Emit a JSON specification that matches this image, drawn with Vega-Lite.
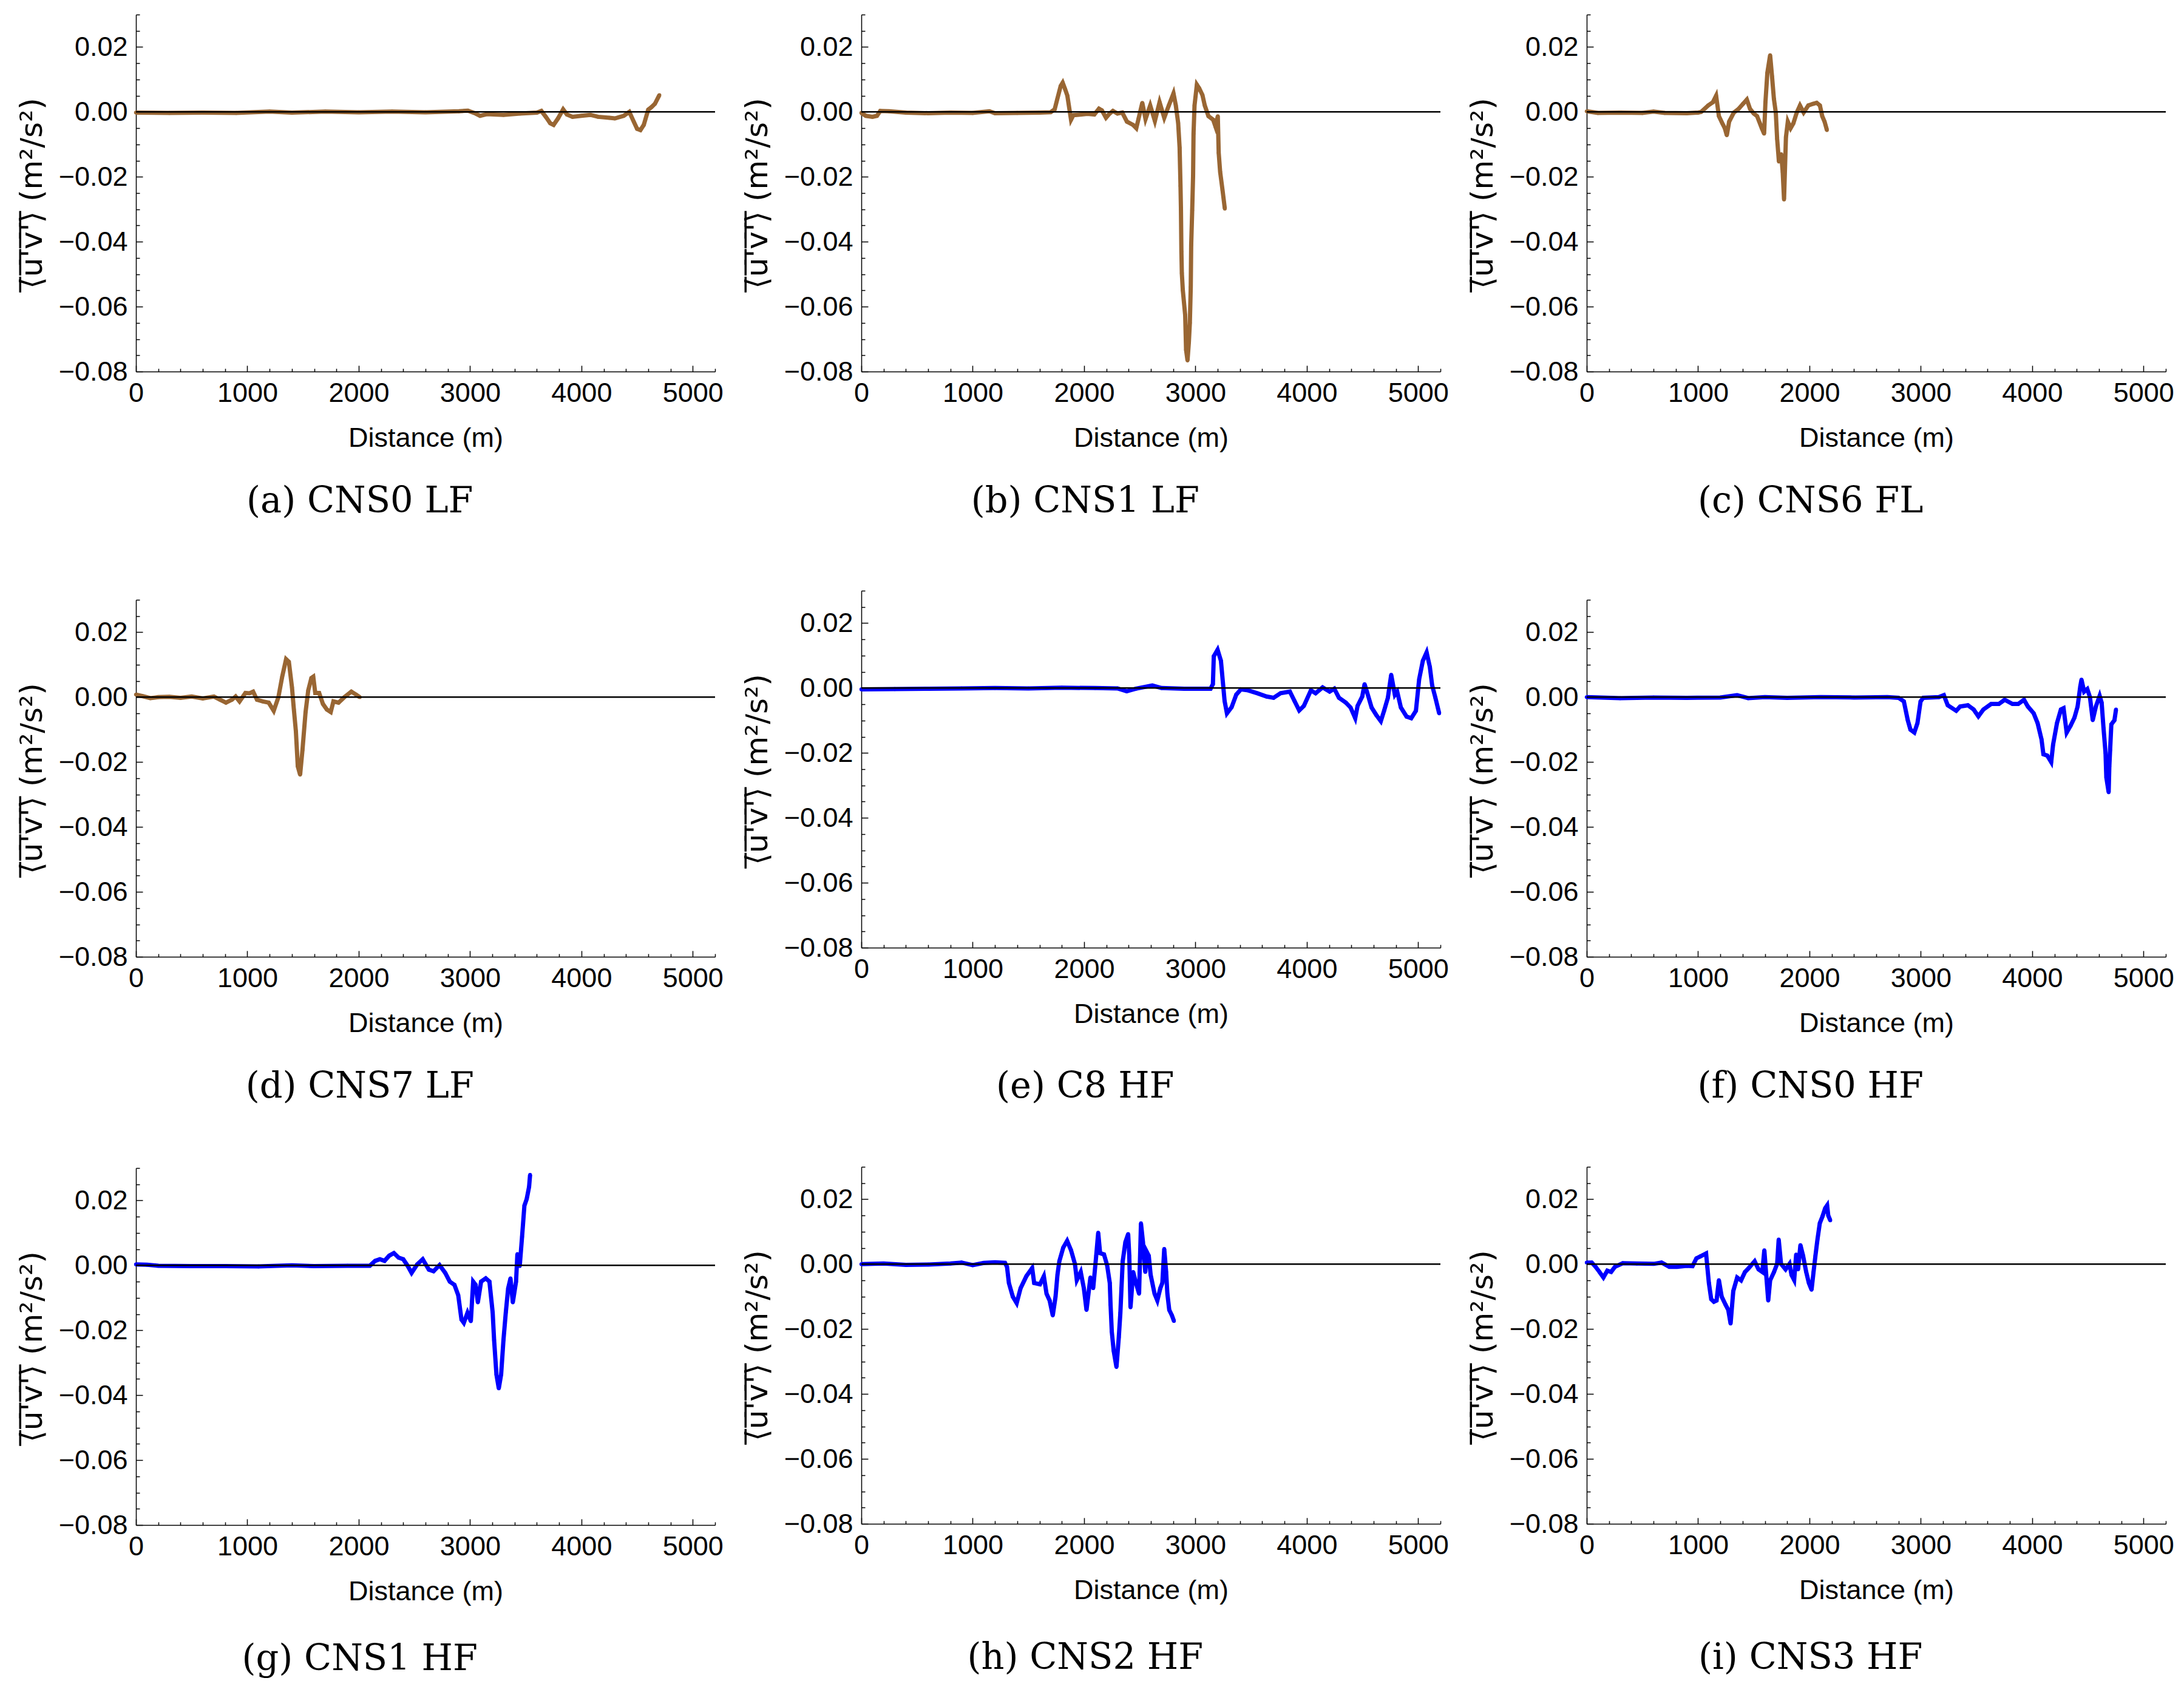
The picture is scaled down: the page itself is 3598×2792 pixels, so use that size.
{
"$schema": "https://vega.github.io/schema/vega-lite/v6.json",
"background": "white",
"padding": {"left": 28, "top": 23, "right": 5, "bottom": 5},
"datasets": {
"a": [{"d":0,"uv":-0.0002},{"d":300,"uv":-0.0003},{"d":600,"uv":-0.0002},{"d":900,"uv":-0.0003},{"d":1200,"uv":0.0001},{"d":1400,"uv":-0.0002},{"d":1700,"uv":0.0001},{"d":2000,"uv":-0.0001},{"d":2300,"uv":0.0001},{"d":2600,"uv":-0.0001},{"d":2900,"uv":0.0002},{"d":2980,"uv":0.0004},{"d":3050,"uv":-0.0005},{"d":3090,"uv":-0.0012},{"d":3150,"uv":-0.0007},{"d":3300,"uv":-0.0009},{"d":3450,"uv":-0.0005},{"d":3600,"uv":-0.0002},{"d":3640,"uv":0.0003},{"d":3680,"uv":-0.0015},{"d":3720,"uv":-0.0035},{"d":3750,"uv":-0.004},{"d":3790,"uv":-0.002},{"d":3836,"uv":0.0008},{"d":3870,"uv":-0.0008},{"d":3920,"uv":-0.0015},{"d":4000,"uv":-0.0012},{"d":4080,"uv":-0.0009},{"d":4150,"uv":-0.0015},{"d":4250,"uv":-0.0018},{"d":4300,"uv":-0.002},{"d":4380,"uv":-0.0012},{"d":4430,"uv":0.0},{"d":4470,"uv":-0.003},{"d":4500,"uv":-0.0052},{"d":4530,"uv":-0.0056},{"d":4560,"uv":-0.004},{"d":4600,"uv":0.0007},{"d":4630,"uv":0.0015},{"d":4660,"uv":0.0025},{"d":4700,"uv":0.0052}],
"b": [{"d":0,"uv":-0.0003},{"d":40,"uv":-0.0012},{"d":100,"uv":-0.0015},{"d":140,"uv":-0.0012},{"d":170,"uv":0.0003},{"d":250,"uv":0.0002},{"d":400,"uv":-0.0002},{"d":600,"uv":-0.0004},{"d":800,"uv":-0.0002},{"d":1000,"uv":-0.0003},{"d":1150,"uv":0.0002},{"d":1200,"uv":-0.0004},{"d":1400,"uv":-0.0003},{"d":1600,"uv":-0.0002},{"d":1700,"uv":-0.0001},{"d":1736,"uv":0.0008},{"d":1760,"uv":0.004},{"d":1790,"uv":0.008},{"d":1808,"uv":0.009},{"d":1830,"uv":0.007},{"d":1850,"uv":0.005},{"d":1883,"uv":-0.0024},{"d":1904,"uv":-0.001},{"d":1967,"uv":-0.0008},{"d":2030,"uv":-0.0006},{"d":2092,"uv":-0.0008},{"d":2134,"uv":0.001},{"d":2160,"uv":0.0005},{"d":2197,"uv":-0.0018},{"d":2230,"uv":-0.0005},{"d":2259,"uv":0.0003},{"d":2300,"uv":-0.0005},{"d":2343,"uv":-0.0002},{"d":2385,"uv":-0.003},{"d":2440,"uv":-0.004},{"d":2469,"uv":-0.005},{"d":2490,"uv":-0.002},{"d":2523,"uv":0.0028},{"d":2552,"uv":-0.0022},{"d":2594,"uv":0.002},{"d":2636,"uv":-0.0028},{"d":2678,"uv":0.003},{"d":2720,"uv":-0.0018},{"d":2761,"uv":0.002},{"d":2803,"uv":0.0057},{"d":2824,"uv":0.002},{"d":2845,"uv":-0.0034},{"d":2858,"uv":-0.011},{"d":2866,"uv":-0.0228},{"d":2870,"uv":-0.03},{"d":2874,"uv":-0.043},{"d":2878,"uv":-0.0497},{"d":2887,"uv":-0.055},{"d":2908,"uv":-0.0626},{"d":2916,"uv":-0.0733},{"d":2929,"uv":-0.0766},{"d":2941,"uv":-0.071},{"d":2950,"uv":-0.065},{"d":2958,"uv":-0.054},{"d":2962,"uv":-0.041},{"d":2971,"uv":-0.0303},{"d":2979,"uv":-0.0196},{"d":2983,"uv":-0.0067},{"d":2992,"uv":0.002},{"d":3013,"uv":0.0084},{"d":3034,"uv":0.0073},{"d":3063,"uv":0.0052},{"d":3084,"uv":0.002},{"d":3117,"uv":-0.0013},{"d":3159,"uv":-0.0024},{"d":3180,"uv":-0.0045},{"d":3201,"uv":-0.0013},{"d":3209,"uv":-0.0126},{"d":3222,"uv":-0.0185},{"d":3243,"uv":-0.024},{"d":3264,"uv":-0.0298}],
"c": [{"d":0,"uv":0.0002},{"d":100,"uv":-0.0003},{"d":300,"uv":-0.0002},{"d":500,"uv":-0.0003},{"d":600,"uv":0.0001},{"d":700,"uv":-0.0003},{"d":900,"uv":-0.0004},{"d":1000,"uv":-0.0002},{"d":1028,"uv":0.0},{"d":1091,"uv":0.002},{"d":1133,"uv":0.003},{"d":1162,"uv":0.005},{"d":1187,"uv":-0.0013},{"d":1216,"uv":-0.0034},{"d":1240,"uv":-0.005},{"d":1258,"uv":-0.0072},{"d":1279,"uv":-0.003},{"d":1321,"uv":-0.0002},{"d":1363,"uv":0.0009},{"d":1404,"uv":0.0025},{"d":1438,"uv":0.0038},{"d":1467,"uv":0.0009},{"d":1500,"uv":-0.0005},{"d":1530,"uv":-0.0013},{"d":1572,"uv":-0.005},{"d":1593,"uv":-0.0067},{"d":1605,"uv":0.003},{"d":1622,"uv":0.012},{"d":1647,"uv":0.0175},{"d":1664,"uv":0.011},{"d":1681,"uv":0.004},{"d":1698,"uv":-0.0002},{"d":1710,"uv":-0.0083},{"d":1726,"uv":-0.0153},{"d":1747,"uv":-0.013},{"d":1760,"uv":-0.0185},{"d":1772,"uv":-0.027},{"d":1789,"uv":-0.0078},{"d":1806,"uv":-0.003},{"d":1831,"uv":-0.005},{"d":1856,"uv":-0.0035},{"d":1886,"uv":-0.0002},{"d":1915,"uv":0.002},{"d":1948,"uv":-0.0002},{"d":1990,"uv":0.002},{"d":2032,"uv":0.0025},{"d":2065,"uv":0.0028},{"d":2094,"uv":0.002},{"d":2115,"uv":-0.0013},{"d":2136,"uv":-0.003},{"d":2157,"uv":-0.0056}],
"d": [{"d":0,"uv":0.0008},{"d":60,"uv":0.0003},{"d":129,"uv":-0.0003},{"d":200,"uv":0.0},{"d":300,"uv":0.0001},{"d":400,"uv":-0.0002},{"d":500,"uv":0.0002},{"d":600,"uv":-0.0004},{"d":700,"uv":0.0002},{"d":756,"uv":-0.0008},{"d":808,"uv":-0.0017},{"d":861,"uv":-0.0008},{"d":895,"uv":0.0002},{"d":930,"uv":-0.0013},{"d":983,"uv":0.0013},{"d":1020,"uv":0.0012},{"d":1052,"uv":0.0017},{"d":1087,"uv":-0.0008},{"d":1139,"uv":-0.0013},{"d":1192,"uv":-0.0017},{"d":1237,"uv":-0.0042},{"d":1279,"uv":0.0},{"d":1313,"uv":0.0063},{"d":1348,"uv":0.0117},{"d":1373,"uv":0.0109},{"d":1401,"uv":0.003},{"d":1418,"uv":-0.0038},{"d":1436,"uv":-0.0105},{"d":1453,"uv":-0.0213},{"d":1474,"uv":-0.0239},{"d":1495,"uv":-0.0163},{"d":1523,"uv":-0.0046},{"d":1547,"uv":0.0021},{"d":1575,"uv":0.0059},{"d":1592,"uv":0.0063},{"d":1610,"uv":0.0013},{"d":1645,"uv":0.0013},{"d":1679,"uv":-0.0021},{"d":1714,"uv":-0.0038},{"d":1749,"uv":-0.0046},{"d":1773,"uv":-0.0013},{"d":1819,"uv":-0.0017},{"d":1871,"uv":0.0},{"d":1934,"uv":0.0017},{"d":1976,"uv":0.0008},{"d":2010,"uv":0.0}],
"e": [{"d":0,"uv":-0.0004},{"d":300,"uv":-0.0003},{"d":600,"uv":-0.0002},{"d":900,"uv":-0.0001},{"d":1200,"uv":0.0},{"d":1500,"uv":-0.0001},{"d":1800,"uv":0.0001},{"d":2100,"uv":0.0},{"d":2300,"uv":-0.0001},{"d":2383,"uv":-0.001},{"d":2466,"uv":-0.0002},{"d":2613,"uv":0.0008},{"d":2696,"uv":0.0},{"d":2900,"uv":-0.0002},{"d":3136,"uv":-0.0002},{"d":3157,"uv":0.0012},{"d":3165,"uv":0.0098},{"d":3199,"uv":0.0118},{"d":3229,"uv":0.0084},{"d":3262,"uv":-0.004},{"d":3283,"uv":-0.0078},{"d":3325,"uv":-0.0059},{"d":3367,"uv":-0.002},{"d":3409,"uv":-0.0004},{"d":3472,"uv":-0.0007},{"d":3555,"uv":-0.0016},{"d":3639,"uv":-0.0026},{"d":3702,"uv":-0.003},{"d":3765,"uv":-0.0016},{"d":3848,"uv":-0.0011},{"d":3890,"uv":-0.004},{"d":3932,"uv":-0.0069},{"d":3974,"uv":-0.0055},{"d":4037,"uv":-0.0007},{"d":4079,"uv":-0.0016},{"d":4142,"uv":0.0002},{"d":4205,"uv":-0.0011},{"d":4247,"uv":-0.0002},{"d":4289,"uv":-0.003},{"d":4351,"uv":-0.0045},{"d":4393,"uv":-0.006},{"d":4435,"uv":-0.0093},{"d":4456,"uv":-0.0055},{"d":4498,"uv":-0.0026},{"d":4519,"uv":0.0012},{"d":4540,"uv":-0.0011},{"d":4582,"uv":-0.006},{"d":4624,"uv":-0.0083},{"d":4665,"uv":-0.0102},{"d":4695,"uv":-0.0069},{"d":4728,"uv":-0.003},{"d":4758,"uv":0.0041},{"d":4791,"uv":-0.0021},{"d":4812,"uv":-0.0011},{"d":4845,"uv":-0.006},{"d":4896,"uv":-0.0088},{"d":4938,"uv":-0.0093},{"d":4980,"uv":-0.007},{"d":5009,"uv":0.0027},{"d":5042,"uv":0.0084},{"d":5076,"uv":0.011},{"d":5105,"uv":0.0065},{"d":5126,"uv":0.0008},{"d":5155,"uv":-0.003},{"d":5189,"uv":-0.0078}],
"f": [{"d":0,"uv":0.0},{"d":300,"uv":-0.0003},{"d":600,"uv":-0.0001},{"d":900,"uv":-0.0002},{"d":1200,"uv":-0.0001},{"d":1350,"uv":0.0006},{"d":1450,"uv":-0.0003},{"d":1600,"uv":0.0},{"d":1800,"uv":-0.0002},{"d":2100,"uv":0.0},{"d":2400,"uv":-0.0001},{"d":2700,"uv":0.0},{"d":2800,"uv":-0.0002},{"d":2848,"uv":-0.0013},{"d":2883,"uv":-0.0071},{"d":2907,"uv":-0.01},{"d":2942,"uv":-0.0109},{"d":2970,"uv":-0.008},{"d":2998,"uv":-0.0013},{"d":3022,"uv":-0.0002},{"d":3162,"uv":0.0},{"d":3207,"uv":0.0006},{"d":3242,"uv":-0.0025},{"d":3318,"uv":-0.0042},{"d":3353,"uv":-0.0029},{"d":3423,"uv":-0.0025},{"d":3475,"uv":-0.0038},{"d":3517,"uv":-0.0059},{"d":3562,"uv":-0.0038},{"d":3632,"uv":-0.0021},{"d":3701,"uv":-0.0021},{"d":3753,"uv":-0.0008},{"d":3823,"uv":-0.0021},{"d":3875,"uv":-0.0021},{"d":3927,"uv":-0.0008},{"d":3962,"uv":-0.0029},{"d":4014,"uv":-0.005},{"d":4049,"uv":-0.008},{"d":4084,"uv":-0.013},{"d":4101,"uv":-0.0176},{"d":4136,"uv":-0.018},{"d":4171,"uv":-0.02},{"d":4188,"uv":-0.0146},{"d":4223,"uv":-0.008},{"d":4258,"uv":-0.0038},{"d":4282,"uv":-0.0034},{"d":4310,"uv":-0.0109},{"d":4345,"uv":-0.0088},{"d":4380,"uv":-0.0063},{"d":4408,"uv":-0.0029},{"d":4432,"uv":0.0033},{"d":4443,"uv":0.0054},{"d":4467,"uv":0.0017},{"d":4495,"uv":0.0025},{"d":4519,"uv":0.0},{"d":4544,"uv":-0.0071},{"d":4572,"uv":-0.0029},{"d":4606,"uv":0.0004},{"d":4624,"uv":-0.0017},{"d":4641,"uv":-0.0096},{"d":4659,"uv":-0.0172},{"d":4666,"uv":-0.0247},{"d":4687,"uv":-0.0293},{"d":4693,"uv":-0.0213},{"d":4700,"uv":-0.0163},{"d":4711,"uv":-0.0084},{"d":4739,"uv":-0.0071},{"d":4753,"uv":-0.0038}],
"g": [{"d":0,"uv":0.0003},{"d":100,"uv":0.0002},{"d":200,"uv":-0.0001},{"d":500,"uv":-0.0002},{"d":800,"uv":-0.0002},{"d":1100,"uv":-0.0003},{"d":1400,"uv":0.0},{"d":1600,"uv":-0.0002},{"d":1900,"uv":-0.0001},{"d":2100,"uv":-0.0001},{"d":2148,"uv":0.0014},{"d":2190,"uv":0.0019},{"d":2232,"uv":0.0014},{"d":2274,"uv":0.003},{"d":2316,"uv":0.0038},{"d":2358,"uv":0.0024},{"d":2400,"uv":0.0019},{"d":2441,"uv":-0.0002},{"d":2475,"uv":-0.0023},{"d":2525,"uv":0.0003},{"d":2575,"uv":0.0019},{"d":2630,"uv":-0.0013},{"d":2672,"uv":-0.0018},{"d":2726,"uv":0.0001},{"d":2777,"uv":-0.0023},{"d":2818,"uv":-0.005},{"d":2860,"uv":-0.006},{"d":2894,"uv":-0.0092},{"d":2923,"uv":-0.0167},{"d":2944,"uv":-0.0177},{"d":2977,"uv":-0.0146},{"d":3007,"uv":-0.0172},{"d":3028,"uv":-0.005},{"d":3050,"uv":-0.006},{"d":3070,"uv":-0.0114},{"d":3099,"uv":-0.005},{"d":3141,"uv":-0.004},{"d":3174,"uv":-0.005},{"d":3203,"uv":-0.0145},{"d":3216,"uv":-0.023},{"d":3237,"uv":-0.0336},{"d":3258,"uv":-0.0379},{"d":3279,"uv":-0.0336},{"d":3300,"uv":-0.023},{"d":3321,"uv":-0.0145},{"d":3342,"uv":-0.0071},{"d":3363,"uv":-0.004},{"d":3384,"uv":-0.0114},{"d":3413,"uv":-0.005},{"d":3425,"uv":0.0035},{"d":3446,"uv":-0.0002},{"d":3467,"uv":0.0088},{"d":3488,"uv":0.0184},{"d":3509,"uv":0.0205},{"d":3530,"uv":0.0242},{"d":3539,"uv":0.0279}],
"h": [{"d":0,"uv":0.0},{"d":200,"uv":0.0002},{"d":400,"uv":-0.0002},{"d":600,"uv":-0.0001},{"d":800,"uv":0.0002},{"d":900,"uv":0.0005},{"d":1000,"uv":-0.0003},{"d":1100,"uv":0.0004},{"d":1200,"uv":0.0006},{"d":1290,"uv":0.0004},{"d":1308,"uv":-0.0008},{"d":1325,"uv":-0.0058},{"d":1360,"uv":-0.01},{"d":1395,"uv":-0.012},{"d":1430,"uv":-0.0074},{"d":1482,"uv":-0.0037},{"d":1534,"uv":-0.0012},{"d":1552,"uv":-0.0058},{"d":1604,"uv":-0.0062},{"d":1639,"uv":-0.0037},{"d":1663,"uv":-0.0091},{"d":1691,"uv":-0.0112},{"d":1719,"uv":-0.0158},{"d":1744,"uv":-0.01},{"d":1761,"uv":-0.0033},{"d":1778,"uv":0.0009},{"d":1813,"uv":0.0051},{"d":1848,"uv":0.0072},{"d":1883,"uv":0.0043},{"d":1918,"uv":0.0001},{"d":1935,"uv":-0.0049},{"d":1970,"uv":-0.0024},{"d":1998,"uv":-0.0074},{"d":2022,"uv":-0.0141},{"d":2057,"uv":-0.0041},{"d":2082,"uv":-0.0074},{"d":2109,"uv":0.0026},{"d":2127,"uv":0.0097},{"d":2144,"uv":0.0034},{"d":2179,"uv":0.003},{"d":2207,"uv":-0.0003},{"d":2231,"uv":-0.0058},{"d":2238,"uv":-0.0125},{"d":2249,"uv":-0.0208},{"d":2266,"uv":-0.0267},{"d":2291,"uv":-0.0317},{"d":2312,"uv":-0.0225},{"d":2326,"uv":-0.015},{"d":2336,"uv":-0.0074},{"d":2347,"uv":0.0009},{"d":2371,"uv":0.0068},{"d":2396,"uv":0.0093},{"d":2406,"uv":0.0026},{"d":2417,"uv":-0.0133},{"d":2441,"uv":-0.0024},{"d":2466,"uv":-0.0058},{"d":2494,"uv":-0.0091},{"d":2511,"uv":0.0126},{"d":2529,"uv":0.0068},{"d":2550,"uv":-0.0024},{"d":2563,"uv":0.0038},{"d":2581,"uv":0.0026},{"d":2598,"uv":-0.0033},{"d":2633,"uv":-0.0091},{"d":2658,"uv":-0.0112},{"d":2685,"uv":-0.0074},{"d":2703,"uv":-0.0058},{"d":2720,"uv":0.0047},{"d":2737,"uv":-0.0024},{"d":2748,"uv":-0.0091},{"d":2765,"uv":-0.0141},{"d":2789,"uv":-0.0158},{"d":2807,"uv":-0.0175}],
"i": [{"d":0,"uv":0.0005},{"d":45,"uv":0.0005},{"d":80,"uv":-0.0008},{"d":115,"uv":-0.0024},{"d":150,"uv":-0.0041},{"d":185,"uv":-0.002},{"d":219,"uv":-0.0024},{"d":254,"uv":-0.0008},{"d":324,"uv":0.0003},{"d":450,"uv":0.0002},{"d":602,"uv":0.0001},{"d":672,"uv":0.0005},{"d":742,"uv":-0.0008},{"d":811,"uv":-0.0008},{"d":900,"uv":-0.0005},{"d":950,"uv":-0.0006},{"d":985,"uv":0.0018},{"d":1020,"uv":0.0024},{"d":1072,"uv":0.0033},{"d":1083,"uv":-0.0008},{"d":1097,"uv":-0.0058},{"d":1118,"uv":-0.0108},{"d":1142,"uv":-0.0116},{"d":1166,"uv":-0.0112},{"d":1187,"uv":-0.0049},{"d":1212,"uv":-0.01},{"d":1247,"uv":-0.0125},{"d":1271,"uv":-0.0141},{"d":1292,"uv":-0.0183},{"d":1316,"uv":-0.0083},{"d":1351,"uv":-0.0041},{"d":1386,"uv":-0.005},{"d":1421,"uv":-0.0024},{"d":1455,"uv":-0.0012},{"d":1508,"uv":0.0009},{"d":1543,"uv":-0.0016},{"d":1577,"uv":-0.0024},{"d":1595,"uv":0.0043},{"d":1612,"uv":-0.0033},{"d":1630,"uv":-0.0112},{"d":1647,"uv":-0.005},{"d":1682,"uv":-0.0024},{"d":1710,"uv":0.0001},{"d":1724,"uv":0.0076},{"d":1745,"uv":0.0001},{"d":1786,"uv":-0.0016},{"d":1821,"uv":0.0001},{"d":1839,"uv":-0.0033},{"d":1863,"uv":-0.0049},{"d":1881,"uv":0.003},{"d":1898,"uv":-0.0016},{"d":1919,"uv":0.0059},{"d":1943,"uv":0.0026},{"d":1971,"uv":-0.0024},{"d":1995,"uv":-0.0058},{"d":2019,"uv":-0.0079},{"d":2037,"uv":-0.0024},{"d":2054,"uv":0.0026},{"d":2072,"uv":0.0076},{"d":2093,"uv":0.0126},{"d":2117,"uv":0.0147},{"d":2141,"uv":0.0172},{"d":2159,"uv":0.0181},{"d":2169,"uv":0.015},{"d":2187,"uv":0.0135}]
},
"spacing": 31,
"hconcat": [
{"spacing": 131, "vconcat": [
 {"width": 954, "height": 588, "title": {"text": "(a) CNS0 LF"}, "resolve": {"axis": {"x": "independent", "y": "independent"}}, "layer": [
  {"data": {"name": "a"}, "mark": {"type": "line", "color": "#996633", "strokeWidth": 7}, "encoding": {"x": {"field": "d", "type": "quantitative", "scale": {"domain": [0, 5200], "nice": false, "zero": false}, "axis": {"orient": "bottom", "values": [0,1000,2000,3000,4000,5000], "format": "d", "title": "Distance (m)", "tickSize": -10, "labelPadding": 23, "titlePadding": 29, "labelFlush": false, "labelOverlap": false}}, "y": {"field": "uv", "type": "quantitative", "scale": {"domain": [-0.08, 0.03], "nice": false, "zero": false}, "axis": {"orient": "left", "values": [-0.075,-0.07,-0.065,-0.055,-0.05,-0.045,-0.035,-0.03,-0.025,-0.015,-0.01,-0.005,0.005,0.01,0.015,0.025,0.03], "labels": false, "domain": false, "tickSize": -6, "title": null}}}},
  {"data": {"name": "a"}, "mark": {"type": "circle", "color": "#996633", "size": 40, "opacity": 1}, "encoding": {"x": {"field": "d", "type": "quantitative", "scale": {"domain": [0, 5200], "nice": false, "zero": false}, "axis": {"orient": "bottom", "values": [200,400,600,800,1200,1400,1600,1800,2200,2400,2600,2800,3200,3400,3600,3800,4200,4400,4600,4800,5200], "labels": false, "domain": false, "tickSize": -5, "title": null}}, "y": {"field": "uv", "type": "quantitative", "scale": {"domain": [-0.08, 0.03], "nice": false, "zero": false}, "axis": null}}},
  {"data": {"values": [{}]}, "mark": {"type": "rule", "color": "black", "strokeWidth": 2.5}, "encoding": {"y": {"datum": 0, "type": "quantitative", "scale": {"domain": [-0.08, 0.03], "nice": false, "zero": false}, "axis": {"orient": "left", "values": [-0.08,-0.06,-0.04,-0.02,0,0.02], "format": ".2f", "title": "⟨̅u̅'̅v̅'̅⟩̅ (m²/s²)", "titleFont": "DejaVu Sans", "titleFontSize": 50, "tickSize": -11, "labelPadding": 25, "titlePadding": 18, "labelFlush": false, "labelOverlap": false}}}}
 ]},
 {"spacing": 101, "vconcat": [
 {"width": 954, "height": 588, "title": {"text": "(d) CNS7 LF"}, "resolve": {"axis": {"x": "independent", "y": "independent"}}, "layer": [
  {"data": {"name": "d"}, "mark": {"type": "line", "color": "#996633", "strokeWidth": 7}, "encoding": {"x": {"field": "d", "type": "quantitative", "scale": {"domain": [0, 5200], "nice": false, "zero": false}, "axis": {"orient": "bottom", "values": [0,1000,2000,3000,4000,5000], "format": "d", "title": "Distance (m)", "tickSize": -10, "labelPadding": 23, "titlePadding": 29, "labelFlush": false, "labelOverlap": false}}, "y": {"field": "uv", "type": "quantitative", "scale": {"domain": [-0.08, 0.03], "nice": false, "zero": false}, "axis": {"orient": "left", "values": [-0.075,-0.07,-0.065,-0.055,-0.05,-0.045,-0.035,-0.03,-0.025,-0.015,-0.01,-0.005,0.005,0.01,0.015,0.025,0.03], "labels": false, "domain": false, "tickSize": -6, "title": null}}}},
  {"data": {"name": "d"}, "mark": {"type": "circle", "color": "#996633", "size": 40, "opacity": 1}, "encoding": {"x": {"field": "d", "type": "quantitative", "scale": {"domain": [0, 5200], "nice": false, "zero": false}, "axis": {"orient": "bottom", "values": [200,400,600,800,1200,1400,1600,1800,2200,2400,2600,2800,3200,3400,3600,3800,4200,4400,4600,4800,5200], "labels": false, "domain": false, "tickSize": -5, "title": null}}, "y": {"field": "uv", "type": "quantitative", "scale": {"domain": [-0.08, 0.03], "nice": false, "zero": false}, "axis": null}}},
  {"data": {"values": [{}]}, "mark": {"type": "rule", "color": "black", "strokeWidth": 2.5}, "encoding": {"y": {"datum": 0, "type": "quantitative", "scale": {"domain": [-0.08, 0.03], "nice": false, "zero": false}, "axis": {"orient": "left", "values": [-0.08,-0.06,-0.04,-0.02,0,0.02], "format": ".2f", "title": "⟨̅u̅'̅v̅'̅⟩̅ (m²/s²)", "titleFont": "DejaVu Sans", "titleFontSize": 50, "tickSize": -11, "labelPadding": 25, "titlePadding": 18, "labelFlush": false, "labelOverlap": false}}}}
 ]},
 {"width": 954, "height": 588, "title": {"text": "(g) CNS1 HF", "offset": 60}, "resolve": {"axis": {"x": "independent", "y": "independent"}}, "layer": [
  {"data": {"name": "g"}, "mark": {"type": "line", "color": "#0000ff", "strokeWidth": 7}, "encoding": {"x": {"field": "d", "type": "quantitative", "scale": {"domain": [0, 5200], "nice": false, "zero": false}, "axis": {"orient": "bottom", "values": [0,1000,2000,3000,4000,5000], "format": "d", "title": "Distance (m)", "tickSize": -10, "labelPadding": 23, "titlePadding": 29, "labelFlush": false, "labelOverlap": false}}, "y": {"field": "uv", "type": "quantitative", "scale": {"domain": [-0.08, 0.03], "nice": false, "zero": false}, "axis": {"orient": "left", "values": [-0.075,-0.07,-0.065,-0.055,-0.05,-0.045,-0.035,-0.03,-0.025,-0.015,-0.01,-0.005,0.005,0.01,0.015,0.025,0.03], "labels": false, "domain": false, "tickSize": -6, "title": null}}}},
  {"data": {"name": "g"}, "mark": {"type": "circle", "color": "#0000ff", "size": 40, "opacity": 1}, "encoding": {"x": {"field": "d", "type": "quantitative", "scale": {"domain": [0, 5200], "nice": false, "zero": false}, "axis": {"orient": "bottom", "values": [200,400,600,800,1200,1400,1600,1800,2200,2400,2600,2800,3200,3400,3600,3800,4200,4400,4600,4800,5200], "labels": false, "domain": false, "tickSize": -5, "title": null}}, "y": {"field": "uv", "type": "quantitative", "scale": {"domain": [-0.08, 0.03], "nice": false, "zero": false}, "axis": null}}},
  {"data": {"values": [{}]}, "mark": {"type": "rule", "color": "black", "strokeWidth": 2.5}, "encoding": {"y": {"datum": 0, "type": "quantitative", "scale": {"domain": [-0.08, 0.03], "nice": false, "zero": false}, "axis": {"orient": "left", "values": [-0.08,-0.06,-0.04,-0.02,0,0.02], "format": ".2f", "title": "⟨̅u̅'̅v̅'̅⟩̅ (m²/s²)", "titleFont": "DejaVu Sans", "titleFontSize": 50, "tickSize": -11, "labelPadding": 25, "titlePadding": 18, "labelFlush": false, "labelOverlap": false}}}}
 ]}
 ]}
]},
{"spacing": 116, "vconcat": [
 {"width": 954, "height": 588, "title": {"text": "(b) CNS1 LF"}, "resolve": {"axis": {"x": "independent", "y": "independent"}}, "layer": [
  {"data": {"name": "b"}, "mark": {"type": "line", "color": "#996633", "strokeWidth": 7}, "encoding": {"x": {"field": "d", "type": "quantitative", "scale": {"domain": [0, 5200], "nice": false, "zero": false}, "axis": {"orient": "bottom", "values": [0,1000,2000,3000,4000,5000], "format": "d", "title": "Distance (m)", "tickSize": -10, "labelPadding": 23, "titlePadding": 29, "labelFlush": false, "labelOverlap": false}}, "y": {"field": "uv", "type": "quantitative", "scale": {"domain": [-0.08, 0.03], "nice": false, "zero": false}, "axis": {"orient": "left", "values": [-0.075,-0.07,-0.065,-0.055,-0.05,-0.045,-0.035,-0.03,-0.025,-0.015,-0.01,-0.005,0.005,0.01,0.015,0.025,0.03], "labels": false, "domain": false, "tickSize": -6, "title": null}}}},
  {"data": {"name": "b"}, "mark": {"type": "circle", "color": "#996633", "size": 40, "opacity": 1}, "encoding": {"x": {"field": "d", "type": "quantitative", "scale": {"domain": [0, 5200], "nice": false, "zero": false}, "axis": {"orient": "bottom", "values": [200,400,600,800,1200,1400,1600,1800,2200,2400,2600,2800,3200,3400,3600,3800,4200,4400,4600,4800,5200], "labels": false, "domain": false, "tickSize": -5, "title": null}}, "y": {"field": "uv", "type": "quantitative", "scale": {"domain": [-0.08, 0.03], "nice": false, "zero": false}, "axis": null}}},
  {"data": {"values": [{}]}, "mark": {"type": "rule", "color": "black", "strokeWidth": 2.5}, "encoding": {"y": {"datum": 0, "type": "quantitative", "scale": {"domain": [-0.08, 0.03], "nice": false, "zero": false}, "axis": {"orient": "left", "values": [-0.08,-0.06,-0.04,-0.02,0,0.02], "format": ".2f", "title": "⟨̅u̅'̅v̅'̅⟩̅ (m²/s²)", "titleFont": "DejaVu Sans", "titleFontSize": 50, "tickSize": -11, "labelPadding": 25, "titlePadding": 18, "labelFlush": false, "labelOverlap": false}}}}
 ]},
 {"spacing": 101, "vconcat": [
 {"width": 954, "height": 588, "title": {"text": "(e) C8 HF", "offset": 68}, "resolve": {"axis": {"x": "independent", "y": "independent"}}, "layer": [
  {"data": {"name": "e"}, "mark": {"type": "line", "color": "#0000ff", "strokeWidth": 7}, "encoding": {"x": {"field": "d", "type": "quantitative", "scale": {"domain": [0, 5200], "nice": false, "zero": false}, "axis": {"orient": "bottom", "values": [0,1000,2000,3000,4000,5000], "format": "d", "title": "Distance (m)", "tickSize": -10, "labelPadding": 23, "titlePadding": 29, "labelFlush": false, "labelOverlap": false}}, "y": {"field": "uv", "type": "quantitative", "scale": {"domain": [-0.08, 0.03], "nice": false, "zero": false}, "axis": {"orient": "left", "values": [-0.075,-0.07,-0.065,-0.055,-0.05,-0.045,-0.035,-0.03,-0.025,-0.015,-0.01,-0.005,0.005,0.01,0.015,0.025,0.03], "labels": false, "domain": false, "tickSize": -6, "title": null}}}},
  {"data": {"name": "e"}, "mark": {"type": "circle", "color": "#0000ff", "size": 40, "opacity": 1}, "encoding": {"x": {"field": "d", "type": "quantitative", "scale": {"domain": [0, 5200], "nice": false, "zero": false}, "axis": {"orient": "bottom", "values": [200,400,600,800,1200,1400,1600,1800,2200,2400,2600,2800,3200,3400,3600,3800,4200,4400,4600,4800,5200], "labels": false, "domain": false, "tickSize": -5, "title": null}}, "y": {"field": "uv", "type": "quantitative", "scale": {"domain": [-0.08, 0.03], "nice": false, "zero": false}, "axis": null}}},
  {"data": {"values": [{}]}, "mark": {"type": "rule", "color": "black", "strokeWidth": 2.5}, "encoding": {"y": {"datum": 0, "type": "quantitative", "scale": {"domain": [-0.08, 0.03], "nice": false, "zero": false}, "axis": {"orient": "left", "values": [-0.08,-0.06,-0.04,-0.02,0,0.02], "format": ".2f", "title": "⟨̅u̅'̅v̅'̅⟩̅ (m²/s²)", "titleFont": "DejaVu Sans", "titleFontSize": 50, "tickSize": -11, "labelPadding": 25, "titlePadding": 18, "labelFlush": false, "labelOverlap": false}}}}
 ]},
 {"width": 954, "height": 588, "title": {"text": "(h) CNS2 HF", "offset": 60}, "resolve": {"axis": {"x": "independent", "y": "independent"}}, "layer": [
  {"data": {"name": "h"}, "mark": {"type": "line", "color": "#0000ff", "strokeWidth": 7}, "encoding": {"x": {"field": "d", "type": "quantitative", "scale": {"domain": [0, 5200], "nice": false, "zero": false}, "axis": {"orient": "bottom", "values": [0,1000,2000,3000,4000,5000], "format": "d", "title": "Distance (m)", "tickSize": -10, "labelPadding": 23, "titlePadding": 29, "labelFlush": false, "labelOverlap": false}}, "y": {"field": "uv", "type": "quantitative", "scale": {"domain": [-0.08, 0.03], "nice": false, "zero": false}, "axis": {"orient": "left", "values": [-0.075,-0.07,-0.065,-0.055,-0.05,-0.045,-0.035,-0.03,-0.025,-0.015,-0.01,-0.005,0.005,0.01,0.015,0.025,0.03], "labels": false, "domain": false, "tickSize": -6, "title": null}}}},
  {"data": {"name": "h"}, "mark": {"type": "circle", "color": "#0000ff", "size": 40, "opacity": 1}, "encoding": {"x": {"field": "d", "type": "quantitative", "scale": {"domain": [0, 5200], "nice": false, "zero": false}, "axis": {"orient": "bottom", "values": [200,400,600,800,1200,1400,1600,1800,2200,2400,2600,2800,3200,3400,3600,3800,4200,4400,4600,4800,5200], "labels": false, "domain": false, "tickSize": -5, "title": null}}, "y": {"field": "uv", "type": "quantitative", "scale": {"domain": [-0.08, 0.03], "nice": false, "zero": false}, "axis": null}}},
  {"data": {"values": [{}]}, "mark": {"type": "rule", "color": "black", "strokeWidth": 2.5}, "encoding": {"y": {"datum": 0, "type": "quantitative", "scale": {"domain": [-0.08, 0.03], "nice": false, "zero": false}, "axis": {"orient": "left", "values": [-0.08,-0.06,-0.04,-0.02,0,0.02], "format": ".2f", "title": "⟨̅u̅'̅v̅'̅⟩̅ (m²/s²)", "titleFont": "DejaVu Sans", "titleFontSize": 50, "tickSize": -11, "labelPadding": 25, "titlePadding": 18, "labelFlush": false, "labelOverlap": false}}}}
 ]}
 ]}
]},
{"spacing": 131, "vconcat": [
 {"width": 954, "height": 588, "title": {"text": "(c) CNS6 FL"}, "resolve": {"axis": {"x": "independent", "y": "independent"}}, "layer": [
  {"data": {"name": "c"}, "mark": {"type": "line", "color": "#996633", "strokeWidth": 7}, "encoding": {"x": {"field": "d", "type": "quantitative", "scale": {"domain": [0, 5200], "nice": false, "zero": false}, "axis": {"orient": "bottom", "values": [0,1000,2000,3000,4000,5000], "format": "d", "title": "Distance (m)", "tickSize": -10, "labelPadding": 23, "titlePadding": 29, "labelFlush": false, "labelOverlap": false}}, "y": {"field": "uv", "type": "quantitative", "scale": {"domain": [-0.08, 0.03], "nice": false, "zero": false}, "axis": {"orient": "left", "values": [-0.075,-0.07,-0.065,-0.055,-0.05,-0.045,-0.035,-0.03,-0.025,-0.015,-0.01,-0.005,0.005,0.01,0.015,0.025,0.03], "labels": false, "domain": false, "tickSize": -6, "title": null}}}},
  {"data": {"name": "c"}, "mark": {"type": "circle", "color": "#996633", "size": 40, "opacity": 1}, "encoding": {"x": {"field": "d", "type": "quantitative", "scale": {"domain": [0, 5200], "nice": false, "zero": false}, "axis": {"orient": "bottom", "values": [200,400,600,800,1200,1400,1600,1800,2200,2400,2600,2800,3200,3400,3600,3800,4200,4400,4600,4800,5200], "labels": false, "domain": false, "tickSize": -5, "title": null}}, "y": {"field": "uv", "type": "quantitative", "scale": {"domain": [-0.08, 0.03], "nice": false, "zero": false}, "axis": null}}},
  {"data": {"values": [{}]}, "mark": {"type": "rule", "color": "black", "strokeWidth": 2.5}, "encoding": {"y": {"datum": 0, "type": "quantitative", "scale": {"domain": [-0.08, 0.03], "nice": false, "zero": false}, "axis": {"orient": "left", "values": [-0.08,-0.06,-0.04,-0.02,0,0.02], "format": ".2f", "title": "⟨̅u̅'̅v̅'̅⟩̅ (m²/s²)", "titleFont": "DejaVu Sans", "titleFontSize": 50, "tickSize": -11, "labelPadding": 25, "titlePadding": 18, "labelFlush": false, "labelOverlap": false}}}}
 ]},
 {"spacing": 101, "vconcat": [
 {"width": 954, "height": 588, "title": {"text": "(f) CNS0 HF"}, "resolve": {"axis": {"x": "independent", "y": "independent"}}, "layer": [
  {"data": {"name": "f"}, "mark": {"type": "line", "color": "#0000ff", "strokeWidth": 7}, "encoding": {"x": {"field": "d", "type": "quantitative", "scale": {"domain": [0, 5200], "nice": false, "zero": false}, "axis": {"orient": "bottom", "values": [0,1000,2000,3000,4000,5000], "format": "d", "title": "Distance (m)", "tickSize": -10, "labelPadding": 23, "titlePadding": 29, "labelFlush": false, "labelOverlap": false}}, "y": {"field": "uv", "type": "quantitative", "scale": {"domain": [-0.08, 0.03], "nice": false, "zero": false}, "axis": {"orient": "left", "values": [-0.075,-0.07,-0.065,-0.055,-0.05,-0.045,-0.035,-0.03,-0.025,-0.015,-0.01,-0.005,0.005,0.01,0.015,0.025,0.03], "labels": false, "domain": false, "tickSize": -6, "title": null}}}},
  {"data": {"name": "f"}, "mark": {"type": "circle", "color": "#0000ff", "size": 40, "opacity": 1}, "encoding": {"x": {"field": "d", "type": "quantitative", "scale": {"domain": [0, 5200], "nice": false, "zero": false}, "axis": {"orient": "bottom", "values": [200,400,600,800,1200,1400,1600,1800,2200,2400,2600,2800,3200,3400,3600,3800,4200,4400,4600,4800,5200], "labels": false, "domain": false, "tickSize": -5, "title": null}}, "y": {"field": "uv", "type": "quantitative", "scale": {"domain": [-0.08, 0.03], "nice": false, "zero": false}, "axis": null}}},
  {"data": {"values": [{}]}, "mark": {"type": "rule", "color": "black", "strokeWidth": 2.5}, "encoding": {"y": {"datum": 0, "type": "quantitative", "scale": {"domain": [-0.08, 0.03], "nice": false, "zero": false}, "axis": {"orient": "left", "values": [-0.08,-0.06,-0.04,-0.02,0,0.02], "format": ".2f", "title": "⟨̅u̅'̅v̅'̅⟩̅ (m²/s²)", "titleFont": "DejaVu Sans", "titleFontSize": 50, "tickSize": -11, "labelPadding": 25, "titlePadding": 18, "labelFlush": false, "labelOverlap": false}}}}
 ]},
 {"width": 954, "height": 588, "title": {"text": "(i) CNS3 HF", "offset": 60}, "resolve": {"axis": {"x": "independent", "y": "independent"}}, "layer": [
  {"data": {"name": "i"}, "mark": {"type": "line", "color": "#0000ff", "strokeWidth": 7}, "encoding": {"x": {"field": "d", "type": "quantitative", "scale": {"domain": [0, 5200], "nice": false, "zero": false}, "axis": {"orient": "bottom", "values": [0,1000,2000,3000,4000,5000], "format": "d", "title": "Distance (m)", "tickSize": -10, "labelPadding": 23, "titlePadding": 29, "labelFlush": false, "labelOverlap": false}}, "y": {"field": "uv", "type": "quantitative", "scale": {"domain": [-0.08, 0.03], "nice": false, "zero": false}, "axis": {"orient": "left", "values": [-0.075,-0.07,-0.065,-0.055,-0.05,-0.045,-0.035,-0.03,-0.025,-0.015,-0.01,-0.005,0.005,0.01,0.015,0.025,0.03], "labels": false, "domain": false, "tickSize": -6, "title": null}}}},
  {"data": {"name": "i"}, "mark": {"type": "circle", "color": "#0000ff", "size": 40, "opacity": 1}, "encoding": {"x": {"field": "d", "type": "quantitative", "scale": {"domain": [0, 5200], "nice": false, "zero": false}, "axis": {"orient": "bottom", "values": [200,400,600,800,1200,1400,1600,1800,2200,2400,2600,2800,3200,3400,3600,3800,4200,4400,4600,4800,5200], "labels": false, "domain": false, "tickSize": -5, "title": null}}, "y": {"field": "uv", "type": "quantitative", "scale": {"domain": [-0.08, 0.03], "nice": false, "zero": false}, "axis": null}}},
  {"data": {"values": [{}]}, "mark": {"type": "rule", "color": "black", "strokeWidth": 2.5}, "encoding": {"y": {"datum": 0, "type": "quantitative", "scale": {"domain": [-0.08, 0.03], "nice": false, "zero": false}, "axis": {"orient": "left", "values": [-0.08,-0.06,-0.04,-0.02,0,0.02], "format": ".2f", "title": "⟨̅u̅'̅v̅'̅⟩̅ (m²/s²)", "titleFont": "DejaVu Sans", "titleFontSize": 50, "tickSize": -11, "labelPadding": 25, "titlePadding": 18, "labelFlush": false, "labelOverlap": false}}}}
 ]}
 ]}
]}
],
"config": {
 "view": {"stroke": null},
 "axis": {"grid": false, "domainColor": "#000000", "tickColor": "#000000", "labelColor": "#000000", "titleColor": "#000000", "labelFont": "Liberation Sans", "titleFont": "Liberation Sans", "labelFontSize": 45, "titleFontSize": 45, "titleFontWeight": "normal", "domainWidth": 1.5, "tickWidth": 1.5},
 "title": {"font": "DejaVu Serif", "fontSize": 59, "fontWeight": "normal", "color": "#000000", "orient": "bottom", "frame": "bounds", "offset": 53, "dx": -17}
}
}
